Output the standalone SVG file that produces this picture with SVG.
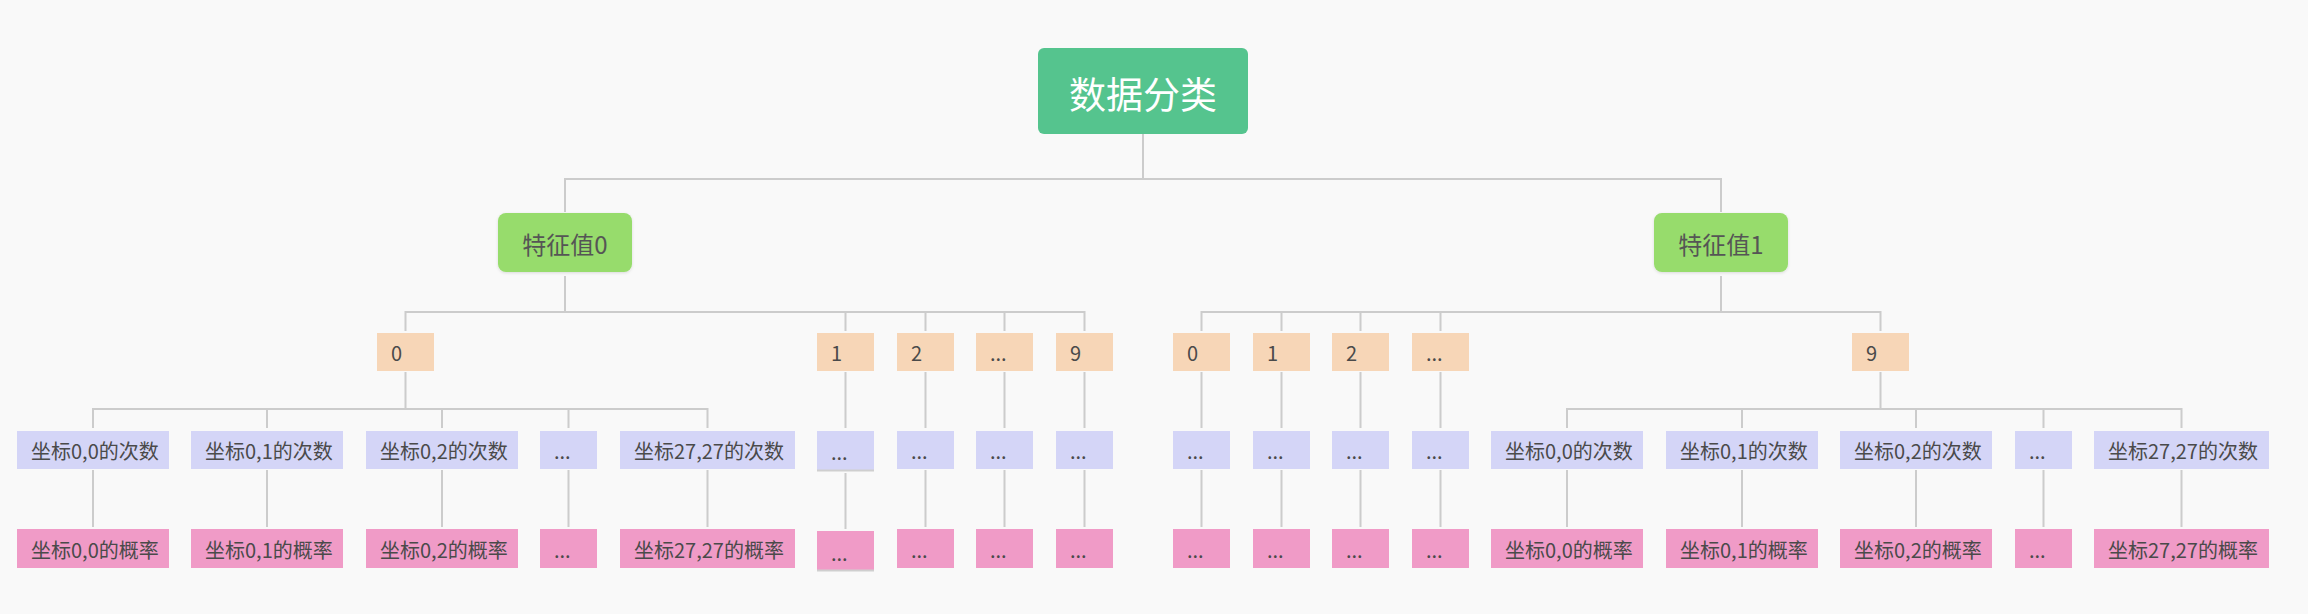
<svg xmlns="http://www.w3.org/2000/svg" width="2308" height="614" viewBox="0 0 2308 614">
<defs>
<filter id="sh" x="-10%" y="-10%" width="120%" height="130%">
<feDropShadow dx="0" dy="1" stdDeviation="1.5" flood-color="#000" flood-opacity="0.12"/>
</filter>
<style>
text{font-family:"Noto Sans CJK SC","Microsoft YaHei",sans-serif;fill:#4a4a4a;}
.root rect{fill:#55c48e;}
.root text{fill:#ffffff;font-size:37px;text-anchor:middle;}
.feat rect{fill:#97dc6c;filter:url(#sh);}
.feat text{font-size:24px;text-anchor:middle;fill:#555555;}
.l3 rect{fill:#f7d6b7;}
.l4 rect{fill:#d4d5f7;}
.l5 rect{fill:#f09bc7;}
.l3 text,.l4 text,.l5 text{font-size:20px;}
.conn path{fill:none;stroke:#cccccc;stroke-width:2;}
.sel{stroke:#cfcfcf;stroke-width:2;}
</style>
</defs>
<rect width="2308" height="614" fill="#f9f9f9"/>
<g class="conn" id="connectors">
<path d="M1143 134 V179 M565 212 V179 H1721 V212"/>
<path d="M405.5 331 V312 H1084.5 V331 M565 276 V312 M845.5 312 V331 M925.5 312 V331 M1004.5 312 V331"/>
<path d="M1201.5 331 V312 H1880.5 V331 M1721 276 V312 M1281.5 312 V331 M1360.5 312 V331 M1440.5 312 V331"/>
<path d="M93 428 V409 H707.5 V428 M405.5 372 V409 M267 409 V428 M442 409 V428 M568.5 409 V428"/>
<path d="M1567 428 V409 H2181.5 V428 M1880.5 372 V409 M1742 409 V428 M1916 409 V428 M2043.5 409 V428"/>
<path d="M845.5 372 V428 M925.5 372 V428 M1004.5 372 V428 M1084.5 372 V428 M1201.5 372 V428 M1281.5 372 V428 M1360.5 372 V428 M1440.5 372 V428"/>
<path d="M93 470 V527 M267 470 V527 M442 470 V527 M568.5 470 V527 M707.5 470 V527 M845.5 473 V529 M925.5 470 V527 M1004.5 470 V527 M1084.5 470 V527"/>
<path d="M1201.5 470 V527 M1281.5 470 V527 M1360.5 470 V527 M1440.5 470 V527 M1567 470 V527 M1742 470 V527 M1916 470 V527 M2043.5 470 V527 M2181.5 470 V527"/>
</g>
<g class="root" id="root"><rect x="1038" y="48" width="210" height="86" rx="6"/><text x="1143" y="109">数据分类</text></g>
<g class="feat" id="f0"><rect x="498" y="213" width="134" height="59" rx="8"/><text x="565" y="254">特征值0</text></g>
<g class="feat" id="f1"><rect x="1654" y="213" width="134" height="59" rx="8"/><text x="1721" y="254">特征值1</text></g>
<g class="l3" id="a0"><rect x="377" y="333" width="57" height="38"/><text x="391" y="361">0</text></g>
<g class="l3" id="a1"><rect x="817" y="333" width="57" height="38"/><text x="831" y="361">1</text></g>
<g class="l3" id="a2"><rect x="897" y="333" width="57" height="38"/><text x="911" y="361">2</text></g>
<g class="l3" id="a3"><rect x="976" y="333" width="57" height="38"/><text x="990" y="361">...</text></g>
<g class="l3" id="a9"><rect x="1056" y="333" width="57" height="38"/><text x="1070" y="361">9</text></g>
<g class="l3" id="b0"><rect x="1173" y="333" width="57" height="38"/><text x="1187" y="361">0</text></g>
<g class="l3" id="b1"><rect x="1253" y="333" width="57" height="38"/><text x="1267" y="361">1</text></g>
<g class="l3" id="b2"><rect x="1332" y="333" width="57" height="38"/><text x="1346" y="361">2</text></g>
<g class="l3" id="b3"><rect x="1412" y="333" width="57" height="38"/><text x="1426" y="361">...</text></g>
<g class="l3" id="b9"><rect x="1852" y="333" width="57" height="38"/><text x="1866" y="361">9</text></g>
<g class="l4" id="a0c0"><rect x="17" y="431" width="152" height="38"/><text x="31" y="459">坐标0,0的次数</text></g>
<g class="l4" id="a0c1"><rect x="191" y="431" width="152" height="38"/><text x="205" y="459">坐标0,1的次数</text></g>
<g class="l4" id="a0c2"><rect x="366" y="431" width="152" height="38"/><text x="380" y="459">坐标0,2的次数</text></g>
<g class="l4" id="a0c3"><rect x="540" y="431" width="57" height="38"/><text x="554" y="459">...</text></g>
<g class="l4" id="a0c4"><rect x="620" y="431" width="175" height="38"/><text x="634" y="459">坐标27,27的次数</text></g>
<g class="l4" id="a1c"><rect x="817" y="431" width="57" height="39"/><line class="sel" x1="817" y1="470.5" x2="874" y2="470.5"/><text x="831" y="460">...</text></g>
<g class="l4" id="a2c"><rect x="897" y="431" width="57" height="38"/><text x="911" y="459">...</text></g>
<g class="l4" id="a3c"><rect x="976" y="431" width="57" height="38"/><text x="990" y="459">...</text></g>
<g class="l4" id="a9c"><rect x="1056" y="431" width="57" height="38"/><text x="1070" y="459">...</text></g>
<g class="l4" id="b0c"><rect x="1173" y="431" width="57" height="38"/><text x="1187" y="459">...</text></g>
<g class="l4" id="b1c"><rect x="1253" y="431" width="57" height="38"/><text x="1267" y="459">...</text></g>
<g class="l4" id="b2c"><rect x="1332" y="431" width="57" height="38"/><text x="1346" y="459">...</text></g>
<g class="l4" id="b3c"><rect x="1412" y="431" width="57" height="38"/><text x="1426" y="459">...</text></g>
<g class="l4" id="b9c0"><rect x="1491" y="431" width="152" height="38"/><text x="1505" y="459">坐标0,0的次数</text></g>
<g class="l4" id="b9c1"><rect x="1666" y="431" width="152" height="38"/><text x="1680" y="459">坐标0,1的次数</text></g>
<g class="l4" id="b9c2"><rect x="1840" y="431" width="152" height="38"/><text x="1854" y="459">坐标0,2的次数</text></g>
<g class="l4" id="b9c3"><rect x="2015" y="431" width="57" height="38"/><text x="2029" y="459">...</text></g>
<g class="l4" id="b9c4"><rect x="2094" y="431" width="175" height="38"/><text x="2108" y="459">坐标27,27的次数</text></g>
<g class="l5" id="a0p0"><rect x="17" y="529" width="152" height="39"/><text x="31" y="558">坐标0,0的概率</text></g>
<g class="l5" id="a0p1"><rect x="191" y="529" width="152" height="39"/><text x="205" y="558">坐标0,1的概率</text></g>
<g class="l5" id="a0p2"><rect x="366" y="529" width="152" height="39"/><text x="380" y="558">坐标0,2的概率</text></g>
<g class="l5" id="a0p3"><rect x="540" y="529" width="57" height="39"/><text x="554" y="558">...</text></g>
<g class="l5" id="a0p4"><rect x="620" y="529" width="175" height="39"/><text x="634" y="558">坐标27,27的概率</text></g>
<g class="l5" id="a1p"><rect x="817" y="531" width="57" height="39"/><line class="sel" x1="817" y1="570.5" x2="874" y2="570.5"/><text x="831" y="561">...</text></g>
<g class="l5" id="a2p"><rect x="897" y="529" width="57" height="39"/><text x="911" y="558">...</text></g>
<g class="l5" id="a3p"><rect x="976" y="529" width="57" height="39"/><text x="990" y="558">...</text></g>
<g class="l5" id="a9p"><rect x="1056" y="529" width="57" height="39"/><text x="1070" y="558">...</text></g>
<g class="l5" id="b0p"><rect x="1173" y="529" width="57" height="39"/><text x="1187" y="558">...</text></g>
<g class="l5" id="b1p"><rect x="1253" y="529" width="57" height="39"/><text x="1267" y="558">...</text></g>
<g class="l5" id="b2p"><rect x="1332" y="529" width="57" height="39"/><text x="1346" y="558">...</text></g>
<g class="l5" id="b3p"><rect x="1412" y="529" width="57" height="39"/><text x="1426" y="558">...</text></g>
<g class="l5" id="b9p0"><rect x="1491" y="529" width="152" height="39"/><text x="1505" y="558">坐标0,0的概率</text></g>
<g class="l5" id="b9p1"><rect x="1666" y="529" width="152" height="39"/><text x="1680" y="558">坐标0,1的概率</text></g>
<g class="l5" id="b9p2"><rect x="1840" y="529" width="152" height="39"/><text x="1854" y="558">坐标0,2的概率</text></g>
<g class="l5" id="b9p3"><rect x="2015" y="529" width="57" height="39"/><text x="2029" y="558">...</text></g>
<g class="l5" id="b9p4"><rect x="2094" y="529" width="175" height="39"/><text x="2108" y="558">坐标27,27的概率</text></g>
</svg>
